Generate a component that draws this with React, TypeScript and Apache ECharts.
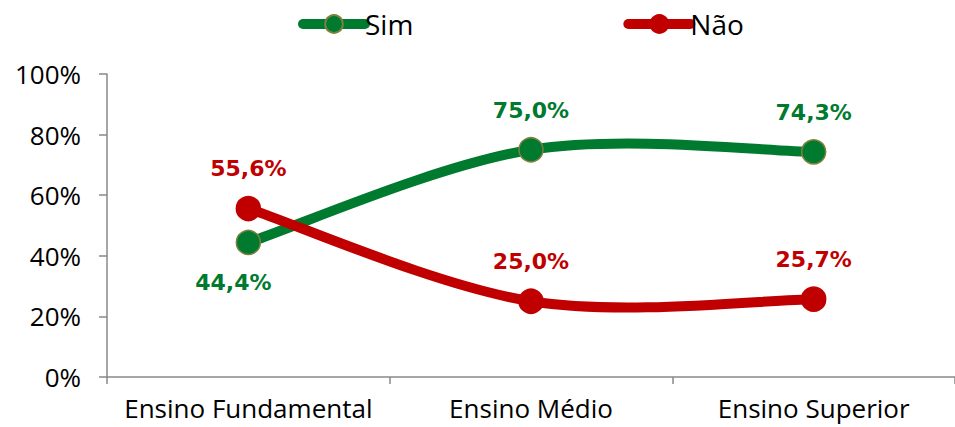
import React, { useEffect, useRef } from "react";
import * as echarts from "echarts";

const categories = ["Ensino Fundamental", "Ensino Médio", "Ensino Superior"];
const simValues = [44.4, 75.0, 74.3];
const naoValues = [55.6, 25.0, 25.7];
const simLabelPos = ["bottom", "top", "top"];
const naoLabelPos = ["top", "top", "top"];
const simLabelShift = [-15, 0, 0];
const naoLabelShift = [0, 0, 0];
const seriesNames = ["Sim", "Não"];

const GREEN = "#007A2E";
const RED = "#C00000";

const fmt = (v: number) => v.toFixed(1).replace(".", ",") + "%";

// Excel-like smoothed curve (Catmull-Rom -> cubic Bezier), points from the axis scales
function curveSeries(values: number[], color: string, z: number) {
  return {
    type: "custom",
    coordinateSystem: "cartesian2d",
    silent: true,
    z,
    data: values.map((v, i) => [i, v]),
    renderItem: (params: any, api: any) => {
      if (params.dataIndex !== 0) return null;
      const pts = values.map((v, i) => api.coord([i, v]));
      const n = pts.length;
      let d = `M ${pts[0][0]} ${pts[0][1]}`;
      for (let i = 0; i < n - 1; i++) {
        const p0 = pts[Math.max(0, i - 1)];
        const p1 = pts[i];
        const p2 = pts[i + 1];
        const p3 = pts[Math.min(n - 1, i + 2)];
        const c1x = p1[0] + (p2[0] - p0[0]) / 6;
        const c1y = p1[1] + (p2[1] - p0[1]) / 6;
        const c2x = p2[0] - (p3[0] - p1[0]) / 6;
        const c2y = p2[1] - (p3[1] - p1[1]) / 6;
        d += ` C ${c1x} ${c1y} ${c2x} ${c2y} ${p2[0]} ${p2[1]}`;
      }
      return {
        type: "path",
        shape: { pathData: d },
        style: { fill: "none", stroke: color, lineWidth: 10, lineCap: "round", lineJoin: "round" },
      };
    },
  };
}

export default function App() {
  const ref = useRef<HTMLDivElement>(null);
  useEffect(() => {
    if (!ref.current) return;
    const chart = echarts.init(ref.current, undefined, { renderer: "svg" });
    const mkSeries = (
      name: string,
      values: number[],
      pos: string[],
      shift: number[],
      color: string,
      border: string,
      z: number
    ) => ({
      name,
      type: "line",
      z,
      data: values.map((v, i) => ({
        value: v,
        label: { position: pos[i], offset: [shift[i], 0] },
      })),
      symbol: "circle",
      symbolSize: 24,
      lineStyle: { width: 10, color, opacity: 0 },
      itemStyle: { color, borderColor: border, borderWidth: 1.5 },
      label: {
        show: true,
        distance: 16,
        color,
        fontFamily: "DejaVu Sans",
        fontWeight: "bold",
        fontSize: 22,
        formatter: (p: any) => fmt(p.value),
      },
    });
    chart.setOption({
      animation: false,
      grid: { left: 107, top: 74, width: 849, bottom: 50, containLabel: false },
      legend: {
        left: 293,
        top: 5,
        itemWidth: 62,
        itemHeight: 22,
        itemGap: 210,
        lineStyle: { width: 10, opacity: 1, cap: "round" },
        textStyle: { fontFamily: "Open Sans", fontSize: 28, color: "#000", padding: [0, 0, 0, -5] },
        data: seriesNames,
      },
      xAxis: {
        type: "category",
        data: categories,
        boundaryGap: true,
        axisLine: { show: true, lineStyle: { color: "#898989", width: 1.5 } },
        axisTick: { show: true, length: 7, lineStyle: { color: "#898989", width: 1.5 } },
        axisLabel: { color: "#000", fontFamily: "Open Sans", fontSize: 26, margin: 18, interval: 0 },
      },
      yAxis: {
        type: "value",
        min: 0,
        max: 100,
        interval: 20,
        axisLine: { show: true, lineStyle: { color: "#898989", width: 1.5 } },
        axisTick: { show: true, length: 8, lineStyle: { color: "#898989", width: 1.5 } },
        splitLine: { show: false },
        axisLabel: { color: "#000", fontFamily: "Open Sans", fontSize: 26, margin: 26, formatter: "{value}%" },
      },
      series: [
        curveSeries(simValues, GREEN, 1),
        curveSeries(naoValues, RED, 2),
        mkSeries(seriesNames[0], simValues, simLabelPos, simLabelShift, GREEN, "#7F8040", 3),
        mkSeries(seriesNames[1], naoValues, naoLabelPos, naoLabelShift, RED, RED, 4),
      ],
    });
    return () => chart.dispose();
  }, []);
  return (
    <div
      ref={ref}
      style={{ position: "absolute", left: 0, top: 0, width: 955, height: 427, background: "#fff" }}
    />
  );
}
